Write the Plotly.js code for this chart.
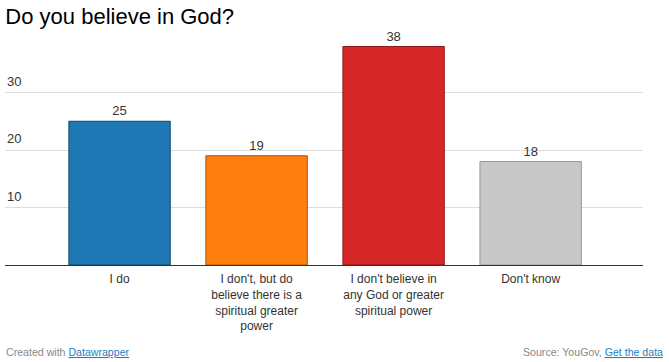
<!DOCTYPE html>
<html><head><meta charset="utf-8">
<script src="https://cdn.plot.ly/plotly-3.0.1.min.js"></script>
<style>html,body{margin:0;padding:0;background:#fff;}#chart{width:669px;height:362px;}</style>
</head><body><div id="chart"></div>
<script>
const categories = ["I do", "I don't, but do<br>believe there is a<br>spiritual greater<br>power", "I don't believe in<br>any God or greater<br>spiritual power", "Don't know"];
const values = [25, 19, 38, 18];
const barColors = ["#1f77b4", "#ff7f0e", "#d62728", "#c8c8c8"];
const barLines = ["#10496e", "#a85207", "#8c1a1a", "#999999"];
const yTicks = [10, 20, 30];

const font = "Liberation Sans, Arial, sans-serif";
const xs = categories.map((c, i) => i);

const trace = {
  type: "bar",
  x: xs,
  y: values,
  width: 0.74,
  marker: {color: barColors, line: {color: barLines, width: 1}},
  text: values.map(String),
  textposition: "outside",
  textfont: {family: font, size: 13, color: "#333"},
  cliponaxis: false,
  hoverinfo: "none"
};

const annotations = yTicks.map(v => ({
  xref: "paper", yref: "y", x: 0.0, y: v, xanchor: "left", yanchor: "bottom",
  yshift: 2, text: String(v), showarrow: false,
  font: {family: font, size: 13, color: "#333"}
}));
annotations.push({
  xref: "paper", yref: "paper", x: -0.002, y: -0.378, xanchor: "left", yanchor: "middle",
  text: 'Created with <span style="color:#1a7fc4;text-decoration:underline">Datawrapper</span>',
  showarrow: false, font: {family: font, size: 10.6, color: "#888"}
});
annotations.push({
  xref: "paper", yref: "paper", x: 1.035, y: -0.378, xanchor: "right", yanchor: "middle",
  text: 'Source: YouGov, <span style="color:#1a7fc4;text-decoration:underline">Get the data</span>',
  showarrow: false, font: {family: font, size: 10.6, color: "#888"}
});

const layout = {
  width: 669, height: 362,
  margin: {l: 5, r: 26, t: 35, b: 97, pad: 0},
  paper_bgcolor: "#fff", plot_bgcolor: "#fff",
  showlegend: false,
  title: {
    text: "Do you believe in God?",
    font: {family: font, size: 22, color: "#000"},
    x: 0.008, xanchor: "left", xref: "container",
    y: 0.975, yanchor: "top", yref: "container"
  },
  xaxis: {
    range: [-0.836, 3.82],
    tickvals: xs, ticktext: categories,
    tickfont: {family: font, size: 12, color: "#333"},
    ticklabelstandoff: 3,
    showgrid: false, zeroline: false,
    showline: true, linecolor: "#333", linewidth: 1,
    ticks: "", fixedrange: true
  },
  yaxis: {
    range: [0, 40],
    tickvals: yTicks, showticklabels: false,
    showgrid: true, gridcolor: "#dddddd", gridwidth: 1,
    zeroline: false, showline: false, ticks: "", fixedrange: true
  },
  annotations: annotations
};

Plotly.newPlot("chart", [trace], layout, {displayModeBar: false, staticPlot: true});
</script></body></html>
